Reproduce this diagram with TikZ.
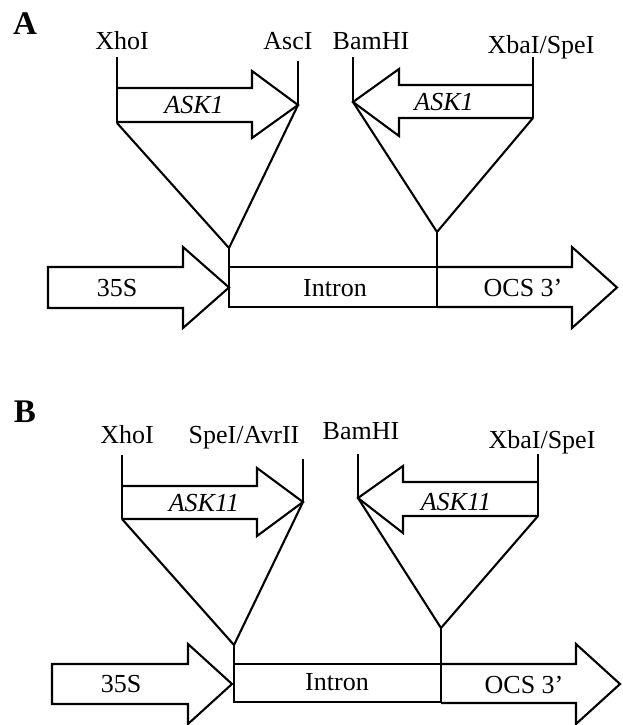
\documentclass[tikz,border=0pt]{standalone}
\usepackage{fontspec}
\setmainfont{Liberation Serif}
\begin{document}
\begin{tikzpicture}[x=1pt,y=-1pt,
  line width=2.1pt, line join=miter,
  site/.style={font=\fontsize{26}{28}\selectfont, anchor=base, inner sep=0pt},
  gene/.style={font=\fontsize{26}{28}\selectfont\itshape, inner sep=0pt},
  part/.style={font=\fontsize{26}{28}\selectfont, inner sep=0pt},
  panel/.style={font=\fontsize{33}{35}\selectfont\bfseries, anchor=base, inner sep=0pt}]
\useasboundingbox (0,0) rectangle (622,725);

% ================= Panel A =================
\node[panel] (labA) at (25,35) {A};
\node[site] (xhoA) at (122,50) {XhoI};
\node[site] (ascA) at (288,50) {AscI};
\node[site] (bamA) at (371,50) {BamHI};
\node[site] (xbaA) at (541,53) {XbaI/SpeI};

% insert sites
\coordinate (xhoAt) at (117,57);  \coordinate (xhoAb) at (117,123);
\coordinate (ascAt) at (298,61);  \coordinate (ascAb) at (298,105);
\coordinate (bamAt) at (353,57);  \coordinate (bamAb) at (353,102);
\coordinate (xbaAt) at (533,57);  \coordinate (xbaAb) at (533,118);
\coordinate (vA1) at (229,248);   \coordinate (vA2) at (437,232);
\coordinate (inA1) at (229,267);  \coordinate (inA2) at (437,267);

% sense ASK1
\draw (117,88) -- (252,88) -- (252,71) -- (ascAb) -- (252,138) -- (252,122) -- (117,122);
\node[gene] (askA1) at (194,105) {ASK1};
% antisense ASK1
\draw (533,85) -- (399,85) -- (399,69) -- (bamAb) -- (399,136) -- (399,118) -- (533,118);
\node[gene] (askA2) at (444,102) {ASK1};

\draw (xhoAt) -- (xhoAb);
\draw (ascAt) -- (ascAb);
\draw (bamAt) -- (bamAb);
\draw (xbaAt) -- (xbaAb);
\draw (xhoAb) -- (vA1) -- (ascAb);
\draw (bamAb) -- (vA2) -- (xbaAb);
\draw (vA1) -- (inA1);
\draw (vA2) -- (inA2);

% vector
\draw (48,267) -- (183,267) -- (183,247) -- (229,287.5) -- (183,328) -- (183,308) -- (48,308) -- cycle;
\node[part] (proA) at (117,288) {35S};
\draw (229,267) rectangle (437,307);
\node[part] (intA) at (335,288) {Intron};
\draw (437,267) -- (572,267) -- (572,247) -- (617,287.5) -- (572,328) -- (572,307) -- (437,307);
\node[part] (ocsA) at (523,288) {OCS 3’};

% ================= Panel B =================
\node[panel] (labB) at (25,422) {B};
\node[site] (xhoB) at (127,443) {XhoI};
\node[site] (speB) at (244,443) {SpeI/AvrII};
\node[site] (bamB) at (361,439) {BamHI};
\node[site] (xbaB) at (542,448) {XbaI/SpeI};

\coordinate (xhoBt) at (122,455); \coordinate (xhoBb) at (122,519);
\coordinate (speBt) at (303,459); \coordinate (speBb) at (303,502);
\coordinate (bamBt) at (358,454); \coordinate (bamBb) at (358,498);
\coordinate (xbaBt) at (538,454); \coordinate (xbaBb) at (538,516);
\coordinate (vB1) at (234,645);   \coordinate (vB2) at (441,628);
\coordinate (inB1) at (234,664);  \coordinate (inB2) at (441,664);

% sense ASK11
\draw (122,486) -- (257,486) -- (257,468) -- (speBb) -- (257,536) -- (257,519) -- (122,519);
\node[gene] (askB1) at (204,503) {ASK11};
% antisense ASK11
\draw (538,482) -- (403,482) -- (403,466) -- (bamBb) -- (403,533) -- (403,516) -- (538,516);
\node[gene] (askB2) at (456,502) {ASK11};

\draw (xhoBt) -- (xhoBb);
\draw (speBt) -- (speBb);
\draw (bamBt) -- (bamBb);
\draw (xbaBt) -- (xbaBb);
\draw (xhoBb) -- (vB1) -- (speBb);
\draw (bamBb) -- (vB2) -- (xbaBb);
\draw (vB1) -- (inB1);
\draw (vB2) -- (inB2);

% vector
\draw (52,664) -- (188,664) -- (188,644) -- (232,684) -- (188,724) -- (188,704) -- (52,704) -- cycle;
\node[part] (proB) at (121,684) {35S};
\draw (234,664) rectangle (441,702);
\node[part] (intB) at (337,682) {Intron};
\draw (441,664) -- (576,664) -- (576,644) -- (620,684) -- (576,724) -- (576,703) -- (441,703);
\node[part] (ocsB) at (524,685) {OCS 3’};
\end{tikzpicture}
\end{document}
